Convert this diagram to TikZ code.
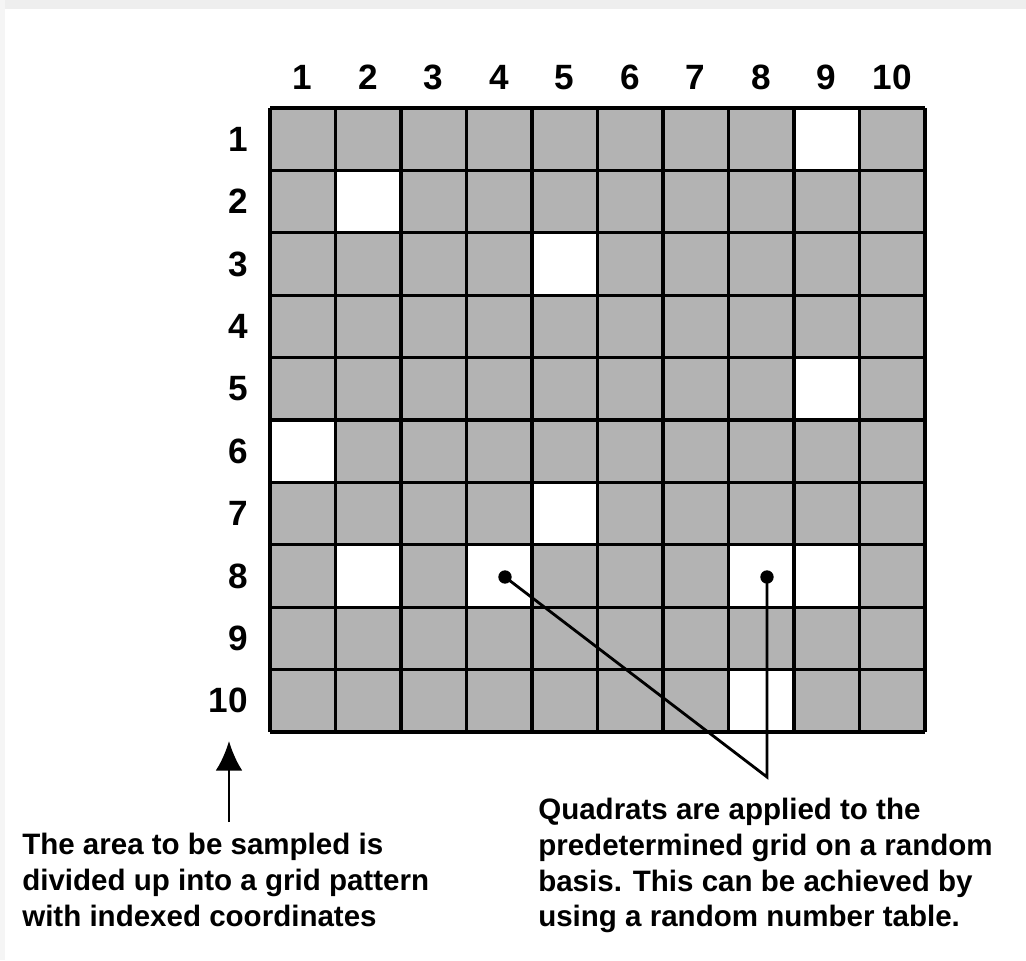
\documentclass[tikz,border=0pt]{standalone}
\usepackage{fontspec}
\setmainfont{Liberation Sans}
\usepackage{xcolor}
\usepackage{tikz}
\usetikzlibrary{
    arrows.meta,
    positioning
}
\definecolor{quadgray}{HTML}{B3B3B3}
\definecolor{edgegray}{HTML}{EEEEEE}

\begin{document}
\begin{tikzpicture}[
    x=0.25mm, y=-0.25mm,
    gridline/.style={draw=black, line width=2.2pt},
    colnum/.style={font=\fontsize{25}{25}\selectfont\bfseries, anchor=base},
    rownum/.style={font=\fontsize{25}{25}\selectfont\bfseries, anchor=east, inner sep=0pt},
    note/.style={font=\fontsize{21}{25.4}\selectfont\bfseries, align=left, anchor=north west, inner sep=0pt},
    dot/.style={circle, fill=black, inner sep=0pt, minimum size=9.5pt},
    pointer/.style={draw=black, line width=2pt},
]
    \useasboundingbox (0,0) rectangle (1026,960);
    \fill[edgegray] (0,0) rectangle (1026,9);
    \fill[edgegray!60] (0,0) rectangle (5,960);

    % Grid cells
    \fill[quadgray] (270,108) rectangle (925,732);
    \foreach \r/\c in {1/9, 2/2, 3/5, 5/9, 6/1, 7/5, 8/2, 8/4, 8/8, 8/9, 10/8}
        \fill[white] ({270+65.5*(\c-1)},{108+62.4*(\r-1)}) rectangle ++(65.5,62.4);
    \foreach \i in {0,...,10} {
        \draw[gridline] ({270+65.5*\i},108) -- ({270+65.5*\i},732);
        \draw[gridline] (270,{108+62.4*\i}) -- (925,{108+62.4*\i});
    }

    % Indices
    \foreach \c in {1,...,10}
        \node[colnum] (col\c) at ({270+65.5*(\c-0.5)},89) {\c};
    \foreach \r in {1,...,10}
        \node[rownum] (row\r) at (248,{108+62.4*(\r-0.5)}) {\r};

    % Sampled quadrats
    \node[dot] (q84) at (505,577) {};
    \node[dot] (q88) at (767,577) {};
    \coordinate (join) at (767,777);
    \draw[pointer] (q84.center) -- (join) -- (q88.center);

    % Grid note
    \node[note] (gridnote) at (22,833) {The area to be sampled is\\divided up into a grid pattern\\with indexed coordinates};
    \coordinate (gridtail) at (229,822);
    \coordinate (gridtip) at (229,741);
    \draw[pointer, -{Latex[length=21pt, width=19pt]}] (gridtail) -- (gridtip);

    % Quadrat note
    \node[note] (quadnote) at (538,798) {Quadrats are applied to the\\predetermined grid on a random\\basis. This can be achieved by\\using a random number table.};

\end{tikzpicture}
\end{document}
